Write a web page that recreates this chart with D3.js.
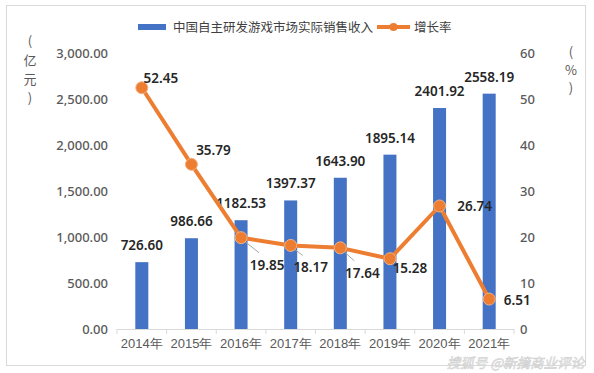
<!DOCTYPE html>
<html>
<head>
<meta charset="utf-8">
<script src="https://cdn.jsdelivr.net/npm/d3@7"></script>
<style>
  body { margin: 0; background: #fff; }
  svg { display: block; font-family: "Noto Sans CJK SC", "Noto Sans", sans-serif; }
</style>
</head>
<body>
<svg id="chart" width="594" height="373"></svg>
<script>
var years = ["2014年", "2015年", "2016年", "2017年", "2018年", "2019年", "2020年", "2021年"];
var revenue = [726.60, 986.66, 1182.53, 1397.37, 1643.90, 1895.14, 2401.92, 2558.19];
var growth = [52.45, 35.79, 19.85, 18.17, 17.64, 15.28, 26.74, 6.51];
var leftTicks = [0, 500, 1000, 1500, 2000, 2500, 3000];
var rightTicks = [0, 10, 20, 30, 40, 50, 60];
// label offsets for the growth line (dx, dy, leader line?)
var growthLabelPos = [[19, -10, 0], [22, -14, 0], [26, 27, 1], [20, 22, 1], [22, 25, 1], [20, 9, 0], [35, 0, 0], [28, 1, 0]];

var svg = d3.select("#chart");
var blue = "#4472c4", orange = "#ed7d31";

// outer frame
svg.append("rect").attr("x", 6.5).attr("y", 5.5).attr("width", 579).attr("height", 360)
  .attr("fill", "#fff").attr("stroke", "#d9d9d9");

var x = d3.scaleBand().domain(years).range([117, 514]);
var yL = d3.scaleLinear().domain([0, 3000]).range([329, 53]);
var yR = d3.scaleLinear().domain([0, 60]).range([329, 53]);

// left axis
var fmt = d3.format(",.2f");
svg.append("g").attr("transform", "translate(108,0)")
  .call(d3.axisLeft(yL).tickValues(leftTicks).tickFormat(fmt).tickSize(0).tickPadding(0))
  .call(function(g) {
    g.select(".domain").remove();
    g.selectAll("text").attr("font-size", 13).attr("fill", "#595959").attr("font-weight", 500)
      .attr("font-family", "'Noto Sans', sans-serif");
  });

// right axis
svg.append("g").attr("transform", "translate(520,0)")
  .call(d3.axisRight(yR).tickValues(rightTicks).tickSize(0).tickPadding(0))
  .call(function(g) {
    g.select(".domain").remove();
    g.selectAll("text").attr("font-size", 13).attr("fill", "#595959").attr("font-weight", 500)
      .attr("font-family", "'Noto Sans', sans-serif");
  });

// x axis
svg.append("g").attr("transform", "translate(0,329)")
  .call(d3.axisBottom(x).tickSize(0).tickPadding(10))
  .call(function(g) {
    g.select(".domain").attr("stroke", "#d9d9d9");
    g.selectAll("text").attr("font-size", 13).attr("fill", "#595959").attr("font-weight", 500);
  });
// category separator ticks
svg.append("g").selectAll("line").data(years.concat(["end"])).join("line")
  .attr("x1", function(d, i) { return x.range()[0] + i * x.step(); })
  .attr("x2", function(d, i) { return x.range()[0] + i * x.step(); })
  .attr("y1", 329).attr("y2", 334).attr("stroke", "#d9d9d9");

// axis titles
svg.append("g").selectAll("text").data(["(", "亿", "元", ")"]).join("text")
  .attr("x", 30).attr("y", function(d, i) { return 46 + i * 19; })
  .attr("text-anchor", "middle").attr("font-size", 13).attr("fill", "#595959")
  .text(function(d) { return d; });
svg.append("g").selectAll("text").data(["(", "%", ")"]).join("text")
  .attr("x", 571).attr("y", function(d, i) { return 57 + i * 18; })
  .attr("text-anchor", "middle").attr("font-size", 13).attr("fill", "#595959")
  .text(function(d) { return d; });

// bars
var bw = 13;
svg.append("g").selectAll("rect").data(revenue).join("rect")
  .attr("x", function(d, i) { return x(years[i]) + x.bandwidth() / 2 - bw / 2; })
  .attr("y", function(d) { return yL(d); })
  .attr("width", bw)
  .attr("height", function(d) { return yL(0) - yL(d); })
  .attr("fill", blue);

// bar labels
svg.append("g").selectAll("text").data(revenue).join("text")
  .attr("x", function(d, i) { return x(years[i]) + x.bandwidth() / 2; })
  .attr("y", function(d) { return yL(d) - 12; })
  .attr("text-anchor", "middle").attr("font-size", 13.5).attr("font-weight", 600)
  .attr("fill", "#262626").attr("font-family", "'Noto Sans', sans-serif")
  .text(function(d) { return d.toFixed(2); });

// growth line
var cx = function(d, i) { return x(years[i]) + x.bandwidth() / 2; };
var line = d3.line().x(cx).y(function(d) { return yR(d); });
svg.append("path").datum(growth).attr("d", line)
  .attr("fill", "none").attr("stroke", orange).attr("stroke-width", 4).attr("stroke-linejoin", "round");

// leader lines
svg.append("g").selectAll("line").data(growth).join("line")
  .filter(function(d, i) { return growthLabelPos[i][2]; })
  .attr("x1", function(d) { return cx(d, growth.indexOf(d)) + 4; })
  .attr("y1", function(d) { return yR(d) + 4; })
  .attr("x2", function(d) { var i = growth.indexOf(d); return cx(d, i) + growthLabelPos[i][0] - 8; })
  .attr("y2", function(d) { var i = growth.indexOf(d); return yR(d) + growthLabelPos[i][1] - 12; })
  .attr("stroke", "#a6a6a6").attr("stroke-width", 1);

svg.append("g").selectAll("circle").data(growth).join("circle")
  .attr("cx", cx).attr("cy", function(d) { return yR(d); })
  .attr("r", 6).attr("fill", orange).attr("stroke", "#f4b183").attr("stroke-width", 1);

svg.append("g").selectAll("text").data(growth).join("text")
  .attr("x", function(d, i) { return cx(d, i) + growthLabelPos[i][0]; })
  .attr("y", function(d, i) { return yR(d) + growthLabelPos[i][1] + 5; })
  .attr("text-anchor", "middle").attr("font-size", 13.5).attr("font-weight", 600)
  .attr("fill", "#262626").attr("font-family", "'Noto Sans', sans-serif")
  .text(function(d) { return d.toFixed(2); });

// legend
var lg = svg.append("g");
lg.append("rect").attr("x", 138).attr("y", 24).attr("width", 28).attr("height", 6).attr("fill", blue);
lg.append("text").attr("x", 173).attr("y", 31.5).attr("font-size", 12.5).attr("fill", "#404040")
  .text("中国自主研发游戏市场实际销售收入");
lg.append("line").attr("x1", 377).attr("x2", 410).attr("y1", 27).attr("y2", 27)
  .attr("stroke", orange).attr("stroke-width", 4);
lg.append("circle").attr("cx", 393.5).attr("cy", 27).attr("r", 4).attr("fill", orange);
lg.append("text").attr("x", 414).attr("y", 31.5).attr("font-size", 12.5).attr("fill", "#404040")
  .text("增长率");

// watermark
svg.append("text").attr("x", 584).attr("y", 368).attr("text-anchor", "end")
  .attr("font-size", 13.5).attr("font-style", "italic").attr("fill", "#fff")
  .attr("stroke", "#cfcfcf").attr("stroke-width", 0.6)
  .text("搜狐号  @新摘商业评论");
</script>
</body>
</html>
